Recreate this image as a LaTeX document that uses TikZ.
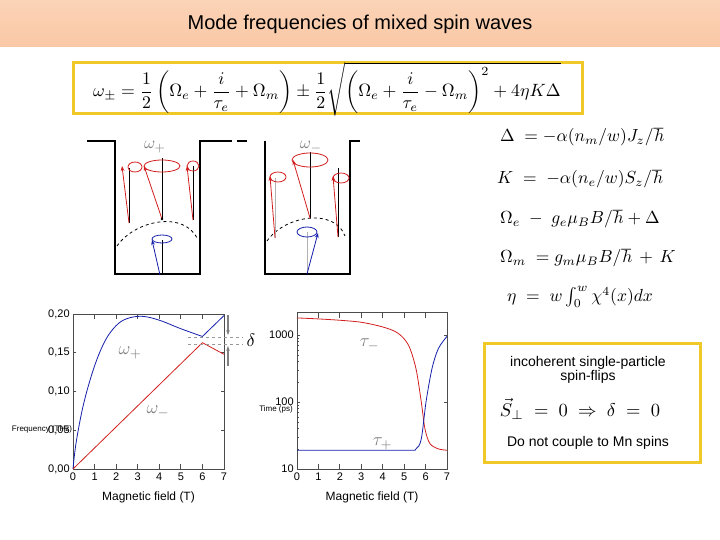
\documentclass[tikz,border=0pt]{standalone}
\usepackage{amsmath}
\usepackage{fontspec}
\setmainfont{Liberation Sans}
\usetikzlibrary{arrows.meta}
\definecolor{gold}{RGB}{240,200,40}
\definecolor{peach}{RGB}{250,200,165}
\definecolor{lab}{RGB}{130,130,130}
\definecolor{cblue}{RGB}{20,30,170}
\definecolor{cred}{RGB}{210,30,30}
\tikzset{
  fs/.style={font=\fontsize{#1}{#1}\selectfont},
  spin/.style={cred,thick,-{Stealth[length=5pt]}},
  axis/.style={line width=0.8pt,black!70},
  tk/.style={fs=11,inner sep=1pt},
  well/.style={line width=2pt},
  cone/.style={cred,thick},
}
\newcommand{\myeq}[1]{\scalebox{1.75}{$#1$}}
\begin{document}
\begin{tikzpicture}[x=1pt,y=-1pt]
\useasboundingbox (0,0) rectangle (720,540);
\fill[top color=peach!80,bottom color=peach] (0,0) rectangle (720,47);
\node[fs=20] (title) at (360,24) {Mode frequencies of mixed spin waves};
% formula box
\draw[gold,line width=3pt] (73,63) rectangle (582,114);
\node (form) at (327,89) {\scalebox{1.78}{$\omega_\pm=\dfrac12\left(\Omega_e+\dfrac{i}{\tau_e}+\Omega_m\right)\pm\dfrac12\sqrt{\left(\Omega_e+\dfrac{i}{\tau_e}-\Omega_m\right)^2+4\eta K\Delta}$}};
% right equations
\node[anchor=west,inner sep=0] (e1) at (500,137) {\myeq{\Delta\;=-\alpha(n_m/w)J_z/\hbar}};
\node[anchor=west,inner sep=0] (e2) at (497,179) {\myeq{K\;=\;-\alpha(n_e/w)S_z/\hbar}};
\node[anchor=west,inner sep=0] (e3) at (500,219) {\myeq{\Omega_e\;-\;g_e\mu_BB/\hbar+\Delta}};
\node[anchor=west,inner sep=0] (e4) at (500,258) {\myeq{\Omega_m\;=g_m\mu_BB/\hbar\,+\,K}};
\node[anchor=west,inner sep=0] (e5) at (507,297) {\myeq{\eta\;=\;w\textstyle\int_0^w\chi^4(x)dx}};
% wells
\draw[well] (87,141) -- (115,141) -- (115,274) -- (200,274) -- (200,141) -- (232,141);
\draw[well] (237,141) -- (247,141);
\draw[well] (265,141) -- (265,274) -- (350,274) -- (350,141) -- (360,141);
\node[text=lab] (wp) at (155,147) {\scalebox{1.7}{$\omega_+$}};
\node[text=lab] (wm) at (311,147) {\scalebox{1.7}{$\omega_-$}};
% left well spins
\draw[thick,dashed] (117,246) .. controls (135,220) and (185,210) .. (198,240);
\draw (129,223) -- (129,168);
\draw[cone] (135,167) ellipse (7 and 5);
\draw[spin] (129,223) -- (122,166);
\draw (162,219) -- (162,158);
\draw[cone] (162,166) ellipse (18 and 6);
\draw[spin] (162,219) -- (144,166);
\draw (193,220) -- (193,166);
\draw[cone] (193,166) ellipse (6 and 5);
\draw[spin] (193,220) -- (187,166);
\draw[fill] (162,219) circle (1.2);
\draw (162,275) -- (162,240);
\draw[cblue,thick] (162,239) ellipse (10 and 4);
\draw[spin,cblue] (160,275) -- (152,240);
% right well spins
\draw[thick,dashed] (267,241) .. controls (285,215) and (335,208) .. (345,236);
\draw[black!30] (275,238) -- (275,178);
\draw[cone] (278,177) ellipse (8 and 5);
\draw[spin] (275,238) -- (270,176);
\draw (310,218) -- (310,152);
\draw[cone] (310,160) ellipse (18 and 7);
\draw[spin] (310,218) -- (293,160);
\draw (338,237) -- (338,168);
\draw[cone] (341,178) ellipse (8 and 5);
\draw[spin] (338,237) -- (333,176);
\draw[black!30] (307,272) -- (307,232);
\draw[cblue,thick] (307,232) ellipse (10 and 5);
\draw[spin,cblue] (307,274) -- (318,233);
% left plot
\begin{scope}[shift={(73pt,-469pt)},x=21.57pt,y=775pt]
\draw[axis] (0,0) rectangle (7,0.2);
\foreach \i in {0,...,7} {\draw[axis] (\i,0) -- (\i,0.006); \draw[axis] (\i,0.2) -- (\i,0.194);
  \node[tk,anchor=north] (lx\i) at (\i,-0.003) {\i};}
\foreach \v/\t in {0/{0,00},0.05/{0,05},0.1/{0,10},0.15/{0,15},0.2/{0,20}} {\draw[axis] (0,\v) -- (0.15,\v); \draw[axis] (7,\v) -- (6.85,\v);
  \node[tk,anchor=east] at (-0.1,\v) {\t};}
\draw[cblue,thick] plot[smooth,tension=0.6] coordinates {(0,0) (0.15,0.035) (0.5,0.085) (1,0.133) (1.5,0.166) (2,0.185) (2.5,0.194) (3.2,0.197) (4,0.192) (5,0.181) (6,0.171)} -- (7,0.198);
\draw[cred,thick] (0,0) -- (6,0.163) -- (7,0.148);
\node[text=lab] (lwp) at (2.65,0.15) {\scalebox{1.8}{$\omega_+$}};
\node[text=lab] (lwm) at (3.95,0.074) {\scalebox{1.8}{$\omega_-$}};
\node[fs=12] (lxl) at (3.5,-0.037) {Magnetic field (T)};
\end{scope}
\node[fs=8,inner sep=0] (ylab1) at (42,429) {Frequency (THz)};
% delta
\draw[black!40,dashed] (188,337) -- (243,337);
\draw[black!40,dashed] (188,344) -- (243,344);
\draw[black!50,line width=1.5pt,-{Stealth[length=5pt]}] (228,315) -- (228,335);
\draw[black!50,line width=1.5pt,-{Stealth[length=5pt]}] (228,366) -- (228,346);
\node (dl) at (251,340) {\scalebox{1.8}{$\delta$}};
% right plot
\begin{scope}[shift={(297pt,-469pt)},x=21.43pt,y=67pt]
\draw[axis] (0,0) rectangle (7,2.33);
\foreach \i in {0,...,7} {\draw[axis] (\i,0) -- (\i,0.08); \draw[axis] (\i,2.33) -- (\i,2.25);
  \node[tk,anchor=north] (rx\i) at (\i,-0.04) {\i};}
\foreach \v/\t in {0/10,1/100,2/1000} {\draw[axis] (0,\v) -- (0.15,\v); \draw[axis] (7,\v) -- (6.85,\v);
  \node[tk,anchor=east] at (-0.1,\v) {\t};}
\foreach \d in {0,1} \foreach \m in {2,...,9} {\draw[axis,line width=0.5pt] (0,{\d+log10(\m)}) -- (0.08,{\d+log10(\m)});}
\draw[cred,thick] plot[smooth,tension=0.5] coordinates {(0,2.255) (1,2.24) (2,2.22) (3,2.19) (4,2.12) (4.7,2.03) (5.2,1.85) (5.55,1.5) (5.8,1.0) (5.97,0.6) (6.2,0.38) (6.6,0.3) (7,0.28)};
\draw[cblue,thick] plot[smooth,tension=0.5] coordinates {(0,0.28) (5,0.28) (5.55,0.3) (5.8,0.45) (6.02,1.0) (6.3,1.5) (6.6,1.8) (7,1.98)};
\node[text=lab] (tm) at (3.4,1.85) {\scalebox{1.8}{$\tau_-$}};
\node[text=lab] (tp) at (4,0.38) {\scalebox{1.8}{$\tau_+$}};
\node[fs=12] (rxl) at (3.5,-0.42) {Magnetic field (T)};
\end{scope}
\node[fs=8,inner sep=0] (ylab2) at (276,409) {Time (ps)};
% right box
\draw[gold,line width=3pt] (484,343) rectangle (700,462);
\node[fs=14,align=center] (inc) at (588,370) {incoherent single-particle\\spin-flips};
\node (sp) at (580,409) {\scalebox{1.85}{$\vec S_\perp\;=\;0\;\Rightarrow\;\delta\;=\;0$}};
\node[fs=14] (dn) at (588,443) {Do not couple to Mn spins};
\end{tikzpicture}
\end{document}
